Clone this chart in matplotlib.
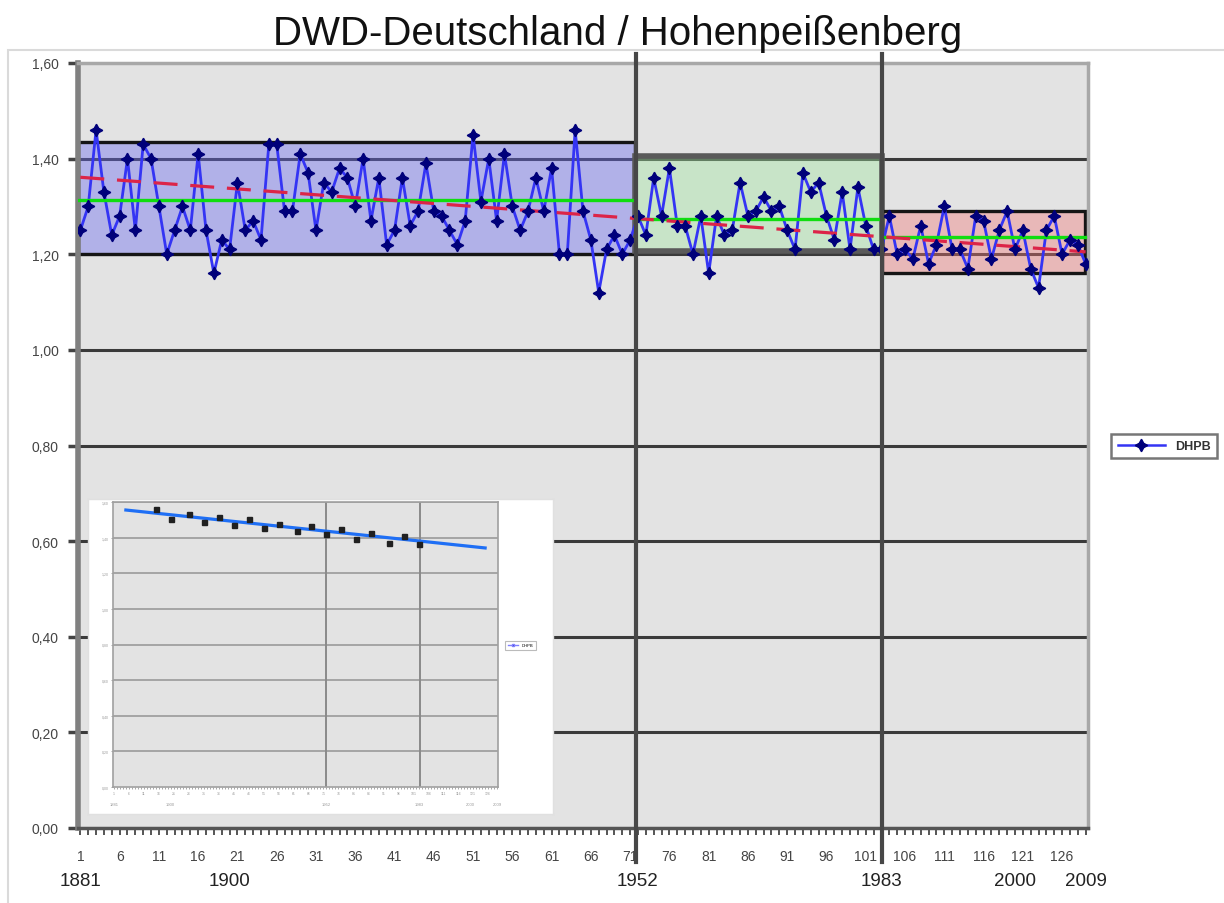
import matplotlib
matplotlib.use("Agg")
import matplotlib.pyplot as plt
from matplotlib.patches import Rectangle
import matplotlib.transforms as mtransforms

# DHPB series, index 1 = 1881 ... 129 = 2009
dhpb = [
    1.25, 1.30, 1.46, 1.33, 1.24, 1.28, 1.40, 1.25, 1.43, 1.40,
    1.30, 1.20, 1.25, 1.30, 1.25, 1.41, 1.25, 1.16, 1.23, 1.21,
    1.35, 1.25, 1.27, 1.23, 1.43, 1.43, 1.29, 1.29, 1.41, 1.37,
    1.25, 1.35, 1.33, 1.38, 1.36, 1.30, 1.40, 1.27, 1.36, 1.22,
    1.25, 1.36, 1.26, 1.29, 1.39, 1.29, 1.28, 1.25, 1.22, 1.27,
    1.45, 1.31, 1.40, 1.27, 1.41, 1.30, 1.25, 1.29, 1.36, 1.29,
    1.38, 1.20, 1.20, 1.46, 1.29, 1.23, 1.12, 1.21, 1.24, 1.20,
    1.23, 1.28, 1.24, 1.36, 1.28, 1.38, 1.26, 1.26, 1.20, 1.28,
    1.16, 1.28, 1.24, 1.25, 1.35, 1.28, 1.29, 1.32, 1.29, 1.30,
    1.25, 1.21, 1.37, 1.33, 1.35, 1.28, 1.23, 1.33, 1.21, 1.34,
    1.26, 1.21, 1.21, 1.28, 1.20, 1.21, 1.19, 1.26, 1.18, 1.22,
    1.30, 1.21, 1.21, 1.17, 1.28, 1.27, 1.19, 1.25, 1.29, 1.21,
    1.25, 1.17, 1.13, 1.25, 1.28, 1.20, 1.23, 1.22, 1.18,
]
idx = list(range(1, len(dhpb) + 1))

tick_idx = list(range(1, 127, 5))
year_labels = ["1881", "1900", "1952", "1983", "2000", "2009"]
year_label_idx = [1, 20, 72, 103, 120, 129]

# three periods: box range and period mean
box_x0 = [0.7, 71.6, 103.1]
box_x1 = [71.6, 103.1, 128.9]
box_lo = [1.20, 1.207, 1.16]
box_hi = [1.435, 1.405, 1.29]
period_mean = [1.313, 1.274, 1.237]
break_idx = [71.7, 103.1]

# linear trend (end points)
trend_x = [1, 129]
trend_y = [1.361, 1.205]

# small pasted chart
inset_x = [15, 20, 26, 31, 36, 41, 46, 51, 56, 62, 67, 72, 77, 82, 87, 93, 98, 103]
inset_y = [1.559, 1.503, 1.535, 1.488, 1.516, 1.473, 1.503, 1.454, 1.479,
           1.436, 1.465, 1.422, 1.450, 1.394, 1.428, 1.370, 1.409, 1.366]
inset_trend_x = [5, 125]
inset_trend_y = [1.555, 1.342]

W, H = 1224, 904
fig = plt.figure(figsize=(W / 100, H / 100), dpi=100)
plt.rcParams['font.family'] = ['Liberation Sans', 'DejaVu Sans']

# chart area border
fig.patches.append(Rectangle((8 / W, -0.01), 1.02, 1 - 51 / H + 0.01, transform=fig.transFigure,
                             fill=False, edgecolor='#dadada', lw=1.5))

ax = fig.add_axes([78 / W, 1 - 829 / H, 1010 / W, 765 / H])
ax.set_facecolor('#e3e3e3')
ax.set_xlim(0.7, 129.3)
ax.set_ylim(0, 1.6)

yt = [i * 0.2 for i in range(9)]
ax.set_yticks(yt)
ax.set_yticklabels([f"{v:.2f}".replace('.', ',') for v in yt])
for v in yt[1:-1]:
    ax.axhline(v, color='#3a3a3a', lw=2.2, zorder=0.5)

ax.set_xticks(idx)
ax.set_xticklabels([str(i) if i in tick_idx else '' for i in idx])
ax.tick_params(axis='x', length=5, width=1.4, color='#555555', pad=10,
               labelsize=10, labelcolor='#444444')
ax.tick_params(axis='y', length=7, width=2.5, color='#444444', pad=7,
               labelsize=10, labelcolor='#444444')

for s in ['top', 'right']:
    ax.spines[s].set_color('#a8a8a8')
    ax.spines[s].set_linewidth(2.5)
ax.spines['left'].set_color('#808080')
ax.spines['left'].set_linewidth(4)
ax.spines['bottom'].set_color('#555555')
ax.spines['bottom'].set_linewidth(2.5)

# period boxes
faces = [(104 / 255, 104 / 255, 241 / 255), (160 / 255, 230 / 255, 160 / 255), (240 / 255, 120 / 255, 120 / 255)]
edges = ['#151515', '#5a5a5a', '#151515']
edge_w = [2.4, 4, 2.4]
for x0, x1, lo, hi, fc, ec, lw in zip(box_x0, box_x1, box_lo, box_hi, faces, edges, edge_w):
    ax.add_patch(Rectangle((x0, lo), x1 - x0, hi - lo, facecolor=fc, alpha=0.4,
                           edgecolor='none', zorder=1))
    ax.add_patch(Rectangle((x0, lo), x1 - x0, hi - lo, fill=False,
                           edgecolor=ec, lw=lw, zorder=1.2))

ax.plot(idx, dhpb, color='#3434f4', lw=2.0, zorder=3)

for x0, x1, m in zip(box_x0, box_x1, period_mean):
    ax.plot([x0, x1], [m, m], color='#10dd10', lw=2.4, zorder=4)

ax.plot(trend_x, trend_y, color='#dc2448', lw=2.3, dashes=(7.5, 4), zorder=4.5)

ax.plot(idx, dhpb, ls='none', marker=(4, 1, 0), markersize=9,
        color='#00007a', zorder=5)

for b in break_idx:
    ax.axvline(b, ymin=-0.044, ymax=1.012, color='#474747', lw=3, clip_on=False, zorder=6)

tr = mtransforms.blended_transform_factory(ax.transData, ax.transAxes)
for lab, i in zip(year_labels, year_label_idx):
    ax.text(i, -0.068, lab, transform=tr, ha='center', va='center',
            fontsize=13.5, color='#222222')

# legend
h, = ax.plot([], [], color='#3434f4', lw=1.8, marker=(4, 1, 0), markersize=9,
             markerfacecolor='#00007a', markeredgecolor='#00007a')
leg = ax.legend([h], ['DHPB'], loc='center left', bbox_to_anchor=(1105 / W, 1 - 447 / H),
                bbox_transform=fig.transFigure, handlelength=3.8, fancybox=False,
                frameon=True, borderpad=0.5, prop={'size': 9, 'weight': 'bold'})
leg.get_frame().set_edgecolor('#555555')
leg.get_frame().set_linewidth(1.8)
for t in leg.get_texts():
    t.set_color('#333333')

fig.text(0.505, 1 - 34 / H, "DWD-Deutschland / Hohenpeißenberg", ha='center', va='center',
         fontsize=29, color='#111111')

# pasted small chart
box = fig.add_axes([88 / W, 1 - 815 / H, 465 / W, 315 / H])
box.set_facecolor('white')
box.set_xticks([])
box.set_yticks([])
for s in box.spines.values():
    s.set_color('#e0e0e0')
    s.set_linewidth(1)
box.set_zorder(7)

ins = fig.add_axes([113 / W, 1 - 788 / H, 385 / W, 285 / H])
ins.set_zorder(8)
ins.set_facecolor('#e3e3e3')
ins.set_xlim(0.7, 129.3)
ins.set_ylim(0, 1.6)
ins.set_yticks(yt)
ins.set_yticklabels([f"{v:.2f}".replace('.', ',') for v in yt])
for v in yt[1:]:
    ins.axhline(v, color='#9a9a9a', lw=1.2, zorder=0.5)
ins.set_xticks(idx)
ins.set_xticklabels([str(i) if i in tick_idx else '' for i in idx])
ins.tick_params(axis='both', labelsize=2.5, labelcolor='#999999', length=1.5,
                width=0.6, color='#999999', pad=1.5)
for s in ins.spines.values():
    s.set_color('#a0a0a0')
    s.set_linewidth(1.2)
for b in break_idx:
    ins.axvline(b, color='#8a8a8a', lw=1.4)
ins.plot(inset_trend_x, inset_trend_y, color='#1f6ff5', lw=2.3, zorder=3)
ins.plot(inset_x, inset_y, ls='none', marker='s', markersize=3.6, color='#202020', zorder=4)
trs = mtransforms.blended_transform_factory(ins.transData, ins.transAxes)
for lab, i in zip(year_labels, year_label_idx):
    ins.text(i, -0.06, lab, transform=trs, ha='center', va='center', fontsize=3, color='#999999')
hl, = ins.plot([], [], color='#8080ff', lw=1, marker='s', markersize=1.5,
               markerfacecolor='#000080')
lg2 = ins.legend([hl], ['DHPB'], loc='center left', bbox_to_anchor=(503 / W, 1 - 646 / H),
                 bbox_transform=fig.transFigure, handlelength=2.5, fancybox=False,
                 prop={'size': 3}, borderpad=0.6)
lg2.get_frame().set_edgecolor('#aaaaaa')
lg2.get_frame().set_linewidth(0.8)

fig.savefig('out.png', dpi=100)
